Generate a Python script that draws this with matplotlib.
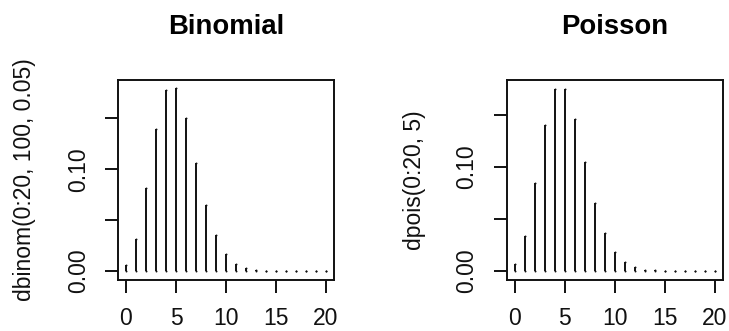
import matplotlib
matplotlib.use("Agg")
import matplotlib.pyplot as plt

W, H = 729, 331

# counts 0..20 and the two probability mass functions
k = list(range(21))
binom_p = [0.00592, 0.03116, 0.08118, 0.13958, 0.17814, 0.18002, 0.15001,
           0.10603, 0.06487, 0.03490, 0.01672, 0.00720, 0.00281, 0.00100,
           0.00033, 0.00010, 0.00003, 0.000008, 0.000002, 0.0000005, 0.0000001]
pois_p = [0.00674, 0.03369, 0.08422, 0.14037, 0.17547, 0.17547, 0.14622,
          0.10444, 0.06528, 0.03627, 0.01813, 0.00824, 0.00343, 0.00132,
          0.00047, 0.00016, 0.00005, 0.000015, 0.000004, 0.000001, 0.0000003]

xticks = [0, 5, 10, 15, 20]
yticks = [0, 0.05, 0.10, 0.15]
ytick_labels = ["0.00", "", "0.10", ""]

panels = [
    # title, ylabel, values, box left px, ylim, ylabel x px
    ("Binomial", "dbinom(0:20, 100, 0.05)", binom_p, 118, (-0.0088, 0.1876), 25),
    ("Poisson", "dpois(0:20, 5)", pois_p, 506.5, (-0.0087, 0.1838), 414),
]

plt.rcParams["font.family"] = ["Liberation Sans", "DejaVu Sans"]
FS = 16.5
LW = 1.4
INK = "#111111"

fig = plt.figure(figsize=(W / 100, H / 100), dpi=100)
fig.patch.set_facecolor("white")

BOX_W, BOX_TOP, BOX_BOT = 216, 80, 280

for title, ylab, vals, left, ylim, ylab_x in panels:
    ax = fig.add_axes([left / W, (H - BOX_BOT) / H, BOX_W / W,
                       (BOX_BOT - BOX_TOP) / H])
    # type="h" spikes; round end caps drawn as small dots so tiny values show
    ax.vlines(k, 0, vals, colors=INK, linewidth=LW)
    ax.plot(k, vals, "o", ms=LW, mew=0, color=INK)
    ax.plot(k, [0] * len(k), "o", ms=LW, mew=0, color=INK)
    ax.set_xlim(-0.8, 20.8)
    ax.set_ylim(*ylim)
    ax.set_xticks(xticks)
    ax.set_xticklabels([str(t) for t in xticks], fontsize=FS, color=INK)
    ax.set_yticks(yticks)
    ax.set_yticklabels(ytick_labels, fontsize=FS, rotation=90, va="center",
                       color=INK)
    ax.tick_params(length=9.4, width=LW, color=INK, direction="out")
    ax.tick_params(axis="x", pad=10)
    ax.tick_params(axis="y", pad=11)
    for s in ax.spines.values():
        s.set_linewidth(LW)
        s.set_color(INK)
    cx = (left + BOX_W / 2) / W
    fig.text(cx, (H - 34.3) / H, title, ha="center", va="baseline",
             fontsize=19.8, fontweight="bold", color="black")
    fig.text(ylab_x / W, (H - 180) / H, ylab, ha="center", va="center",
             rotation=90, fontsize=FS, color=INK)

fig.savefig("out.png", dpi=100)
